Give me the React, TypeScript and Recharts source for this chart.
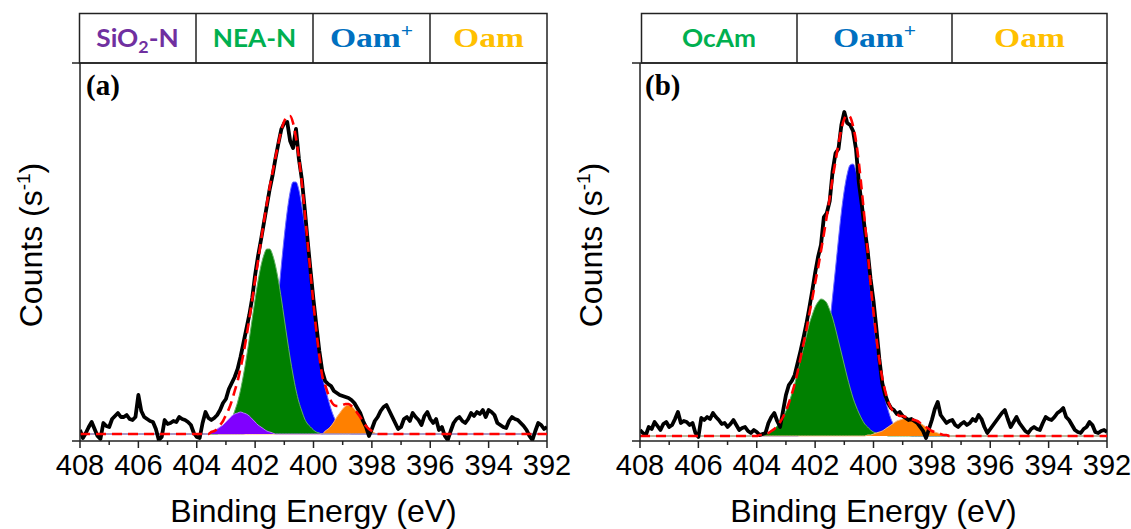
import React from 'react';
import { ComposedChart, Area, Line, XAxis, YAxis, ReferenceLine } from 'recharts';

// N 1s spectra, binding energy grid 408.0 -> 392.0 eV in 0.1 eV steps
const ENERGY_START = 408;
const ENERGY_STEP = 0.1;

const energyTicks = [408, 407, 406, 405, 404, 403, 402, 401, 400, 399, 398, 397, 396, 395, 394, 393, 392];

// measured counts (arb. units), panel (a)
const spectrumA = [
  11, 3, 8, 14, 19, 12, 5, 2, 18, 15, 14, 22, 25, 28, 24, 24, 26, 22, 21, 24,
  46, 30, 24, 22, 20, 19, 12, 1, 4, 21, 17, 18, 20, 19, 24, 22, 21, 19, 16, 8,
  4, 3, 18, 29, 23, 21, 23, 26, 31, 38, 42, 52, 58, 64, 72, 84, 98, 112, 126, 143,
  166, 185, 201, 218, 235, 252, 266, 283, 298, 312, 318, 319, 300, 293, 312, 282, 262, 232, 200, 170,
  141, 115, 90, 70, 60, 57, 55, 50, 48, 46, 45, 44, 43, 41, 38, 33, 28, 20, 14, 5,
  12, 20, 24, 30, 34, 36, 30, 24, 18, 12, 14, 22, 24, 20, 28, 24, 21, 16, 25, 29,
  22, 18, 22, 11, 14, 5, 1, 10, 18, 22, 24, 20, 18, 22, 28, 25, 29, 27, 31, 24,
  31, 29, 26, 18, 16, 14, 13, 20, 24, 22, 21, 18, 15, 11, 5, 1, 10, 18, 16, 12,
  14,
];

// measured counts (arb. units), panel (b)
const spectrumB = [
  11, 8, 6, 14, 12, 19, 15, 11, 17, 19, 14, 16, 22, 29, 18, 20, 19, 16, 18, 8,
  4, 23, 21, 24, 22, 28, 24, 21, 17, 18, 14, 17, 21, 16, 11, 13, 14, 10, 8, 11,
  9, 6, 7, 8, 18, 24, 28, 20, 14, 30, 46, 56, 60, 66, 78, 90, 103, 117, 133, 150,
  168, 184, 196, 224, 228, 240, 270, 288, 292, 316, 329, 318, 316, 310, 292, 258, 236, 212, 190, 162,
  140, 112, 82, 58, 46, 38, 33, 31, 27, 29, 25, 23, 21, 22, 20, 18, 14, 10, 3, 12,
  21, 32, 39, 26, 22, 18, 20, 21, 16, 14, 17, 19, 16, 18, 22, 20, 26, 22, 14, 8,
  12, 16, 20, 24, 28, 31, 22, 14, 19, 24, 18, 14, 10, 8, 12, 14, 12, 11, 18, 24,
  22, 21, 24, 28, 30, 33, 24, 21, 16, 11, 9, 8, 12, 14, 19, 16, 9, 8, 10, 11,
  9,
];

// background level of each fit
const baseA = 7;
const baseB = 5;

// fitted components: height above background, first value at *Start, then every 0.1 eV down
const sio2nAStart = 403.5;
const sio2nA = [2, 3, 5, 7, 9, 12, 15, 18, 20, 21, 22, 21, 20, 18, 15, 12, 9, 7, 5, 3, 2, 1];
const neanAStart = 403.2;
const neanA = [
  2, 4, 7, 10, 15, 23, 32, 44, 59, 76, 95, 115, 135, 153, 168, 179, 185, 185, 179, 168,
  153, 135, 115, 95, 76, 59, 44, 32, 23, 15, 10, 7, 4, 2, 1,
];
const oamPlusAStart = 402.3;
const oamPlusA = [
  1, 2, 4, 7, 11, 18, 28, 42, 60, 82, 109, 138, 169, 198, 223, 242, 252, 252, 244, 228,
  207, 181, 153, 126, 100, 77, 58, 46, 35, 25, 17, 11, 7, 4, 2, 1,
];
const oamAStart = 399.6;
const oamA = [3, 5, 8, 12, 17, 21, 25, 28, 29, 28, 25, 21, 17, 12, 8, 5, 3, 1];

const ocamBStart = 403.9;
const ocamB = [
  1, 1, 2, 3, 5, 7, 10, 14, 19, 25, 33, 42, 52, 64, 76, 88, 100, 112, 121, 129,
  134, 137, 136, 133, 126, 118, 107, 95, 83, 71, 59, 48, 38, 30, 23, 17, 12, 9, 6, 4,
  3, 2, 1, 1,
];
const oamPlusBStart = 402.5;
const oamPlusB = [
  2, 4, 6, 10, 16, 24, 34, 48, 66, 87, 112, 140, 168, 197, 224, 246, 262, 271, 272, 265,
  250, 228, 203, 174, 145, 118, 92, 70, 52, 37, 26, 17, 11, 7, 4, 3, 1, 1,
];
const oamBStart = 400.2;
const oamB = [1, 1, 2, 3, 4, 5, 7, 9, 11, 13, 15, 16, 17, 18, 18, 17, 16, 15, 13, 11, 9, 7, 5, 4, 3, 2, 1, 1];

type Peak = { key: string; start: number; values: number[]; fill: string; edge: string };

// drawing order: later entries sit on top
const peaksA: Peak[] = [
  { key: 'oamPlus', start: oamPlusAStart, values: oamPlusA, fill: '#0000ff', edge: '#6a6aff' },
  { key: 'oam', start: oamAStart, values: oamA, fill: '#ff8000', edge: '#ffb070' },
  { key: 'nean', start: neanAStart, values: neanA, fill: '#008000', edge: '#60b060' },
  { key: 'sio2n', start: sio2nAStart, values: sio2nA, fill: '#8000ff', edge: '#b77cff' },
];
const peaksB: Peak[] = [
  { key: 'oamPlus', start: oamPlusBStart, values: oamPlusB, fill: '#0000ff', edge: '#6a6aff' },
  { key: 'ocam', start: ocamBStart, values: ocamB, fill: '#008000', edge: '#60b060' },
  { key: 'oam', start: oamBStart, values: oamB, fill: '#ff8000', edge: '#f0b888' },
];

const AXIS = '#222';
const SANS = '"Liberation Sans", Arial, sans-serif';
const SERIF = '"Liberation Serif", "Times New Roman", serif';
const LABEL_SANS = 'Lato, "Open Sans", sans-serif';

function peakAt(values: number[], start: number, e: number) {
  const j = Math.round((start - e) * 10);
  return j >= 0 && j < values.length ? values[j] : 0;
}

function buildRows(spectrum: number[], base: number, peaks: Peak[]) {
  return spectrum.map((counts, i) => {
    const e = Math.round((ENERGY_START - i * ENERGY_STEP) * 10) / 10;
    const row: Record<string, number> = { e, counts };
    let envelope = base;
    peaks.forEach((p) => {
      const v = peakAt(p.values, p.start, e);
      row[p.key] = base + v;
      envelope += v;
    });
    row.envelope = envelope;
    return row;
  });
}

const rowsA = buildRows(spectrumA, baseA, peaksA);
const rowsB = buildRows(spectrumB, baseB, peaksB);

function EnergyTick(props: any) {
  const { x, y, payload } = props;
  const v = payload.value as number;
  const major = v % 2 === 0;
  return (
    <g>
      <line x1={x} x2={x} y1={y} y2={y + (major ? 7 : 4)} stroke={AXIS} strokeWidth={1.5} />
      {major && (
        <text x={x} y={y + 34} textAnchor="middle" fontFamily={SANS} fontSize={29} fill="#000">
          {v}
        </text>
      )}
    </g>
  );
}

function XpsPanel({ rows, peaks, base, width, right }: { rows: any[]; peaks: Peak[]; base: number; width: number; right: number }) {
  return (
    <ComposedChart width={width} height={529} data={rows} margin={{ top: 63, right, bottom: 28, left: 60 }}>
      <XAxis
        type="number"
        dataKey="e"
        domain={[392, 408]}
        reversed
        allowDataOverflow
        ticks={energyTicks}
        interval={0}
        height={60}
        tickSize={0}
        tickMargin={0}
        tickLine={false}
        tick={<EnergyTick />}
        axisLine={{ stroke: AXIS, strokeWidth: 1.5 }}
      />
      <YAxis
        type="number"
        domain={[0, 378]}
        allowDataOverflow
        width={20}
        ticks={[0, 378]}
        interval={0}
        tickSize={8}
        tick={<g />}
        tickLine={{ stroke: AXIS, strokeWidth: 1.5 }}
        axisLine={{ stroke: AXIS, strokeWidth: 1.5 }}
      />
      <ReferenceLine x={392} stroke={AXIS} strokeWidth={1.5} />
      <ReferenceLine y={378} stroke={AXIS} strokeWidth={1.5} />
      {peaks.map((p) => (
        <Area
          key={p.key}
          dataKey={p.key}
          type="monotone"
          baseValue={base}
          fill={p.fill}
          fillOpacity={1}
          stroke={p.edge}
          strokeWidth={1}
          dot={false}
          activeDot={false}
          isAnimationActive={false}
        />
      ))}
      <Line dataKey="counts" type="linear" stroke="#000" strokeWidth={3.8} strokeLinejoin="round" dot={false} activeDot={false} isAnimationActive={false} />
      <Line dataKey="envelope" type="monotone" stroke="#ff0000" strokeWidth={2.6} strokeDasharray="10 6" dot={false} activeDot={false} isAnimationActive={false} />
    </ComposedChart>
  );
}

function HeaderCell({ cx, children, serif, color }: { cx: number; children: React.ReactNode; serif?: boolean; color: string }) {
  return (
    <text
      transform={`translate(${cx},47) scale(${serif ? 1.2 : 1.05},1)`}
      textAnchor="middle"
      fontFamily={serif ? SERIF : LABEL_SANS}
      fontWeight={700}
      fontSize={serif ? 28 : 25}
      fill={color}
    >
      {children}
    </text>
  );
}

export default function App() {
  return (
    <div style={{ position: 'absolute', left: 0, top: 0, width: 1131, height: 529, background: '#fff' }}>
      <div style={{ position: 'absolute', left: 0, top: 0 }}>
        {/* wider than its slot so the last tick label is not clipped */}
        <XpsPanel rows={rowsA} peaks={peaksA} base={baseA} width={590} right={43} />
      </div>
      <div style={{ position: 'absolute', left: 560, top: 0 }}>
        <XpsPanel rows={rowsB} peaks={peaksB} base={baseB} width={571} right={24} />
      </div>
      <svg width={1131} height={529} style={{ position: 'absolute', left: 0, top: 0, pointerEvents: 'none' }}>
        {/* component legend strips */}
        <g fill="none" stroke={AXIS} strokeWidth={1.5}>
          <rect x={79.5} y={13.5} width={467.5} height={49.5} />
          <line x1={196} x2={196} y1={13.5} y2={63} />
          <line x1={313} x2={313} y1={13.5} y2={63} />
          <line x1={430} x2={430} y1={13.5} y2={63} />
          <rect x={641.5} y={13.5} width={465.5} height={49.5} />
          <line x1={797} x2={797} y1={13.5} y2={63} />
          <line x1={952} x2={952} y1={13.5} y2={63} />
        </g>
        <HeaderCell cx={137.5} color="#7030a0">
          SiO<tspan dy={6} fontSize={17}>2</tspan>
          <tspan dy={-6}>-N</tspan>
        </HeaderCell>
        <HeaderCell cx={254.5} color="#00b050">NEA-N</HeaderCell>
        <HeaderCell cx={371.5} serif color="#0070c0">
          Oam<tspan dy={-10} fontSize={18}>+</tspan>
        </HeaderCell>
        <HeaderCell cx={488.5} serif color="#ffc000">Oam</HeaderCell>
        <HeaderCell cx={719} color="#00b050">OcAm</HeaderCell>
        <HeaderCell cx={874.5} serif color="#0070c0">
          Oam<tspan dy={-10} fontSize={18}>+</tspan>
        </HeaderCell>
        <HeaderCell cx={1029.5} serif color="#ffc000">Oam</HeaderCell>

        <text x={86} y={95} fontFamily={SERIF} fontWeight={700} fontSize={29} fill="#000">(a)</text>
        <text x={645} y={95} fontFamily={SERIF} fontWeight={700} fontSize={29} fill="#000">(b)</text>

        {[{ x: 42, cx: 313.5 }, { x: 602, cx: 873.5 }].map((a) => (
          <g key={a.x} fontFamily={SANS} fontSize={32} fill="#000">
            <text transform={`translate(${a.x},245) rotate(-90)`} textAnchor="middle">
              Counts (s<tspan dy={-12} fontSize={19}>-1</tspan>
              <tspan dy={12}>)</tspan>
            </text>
            <text x={a.cx} y={522} textAnchor="middle">Binding Energy (eV)</text>
          </g>
        ))}
      </svg>
    </div>
  );
}
